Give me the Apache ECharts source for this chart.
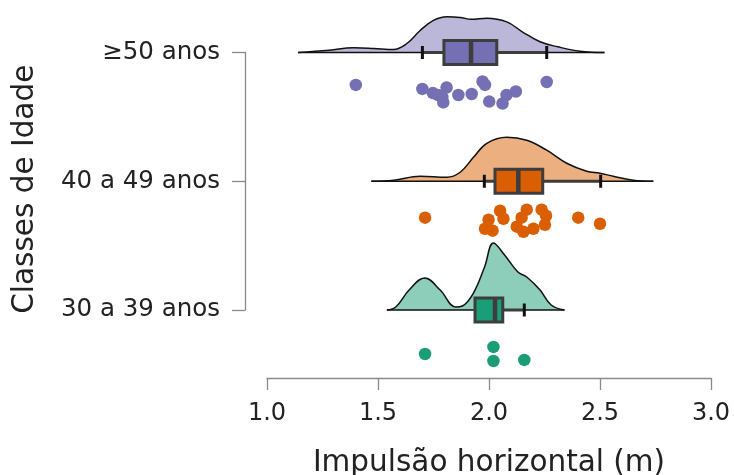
<!DOCTYPE html>
<html lang="pt">
<head>
    <meta charset="UTF-8">
    <title>Impulsão horizontal por classe de idade</title>
    <script src="https://cdn.jsdelivr.net/npm/echarts@6/dist/echarts.min.js"></script>
</head>
<body>
<div id="chart"></div>
</body>
<style>
    * {
        padding: 0;
        margin: 0;
    }

    html, body {
        width: 100%;
        height: 100%;
        background-color: white;
    }

    #chart {
        width: 734px;
        height: 475px;
    }
</style>
<script>

    // categorias (0 = mais baixa no eixo)
    const categories = ['30 a 39 anos', '40 a 49 anos', '≥50 anos']
    const colors = ['#1b9e77', '#d95f02', '#7570b3']
    const xTicks = [1.0, 1.5, 2.0, 2.5, 3.0]

    // densidade (metade do violino), altura em unidades do eixo das classes
    const densX30 = [1.54, 1.58, 1.64, 1.71, 1.78, 1.85, 1.88, 1.93, 1.98, 2.02, 2.07, 2.13, 2.17, 2.23, 2.28, 2.34]
    const densH30 = [0, 0.023, 0.155, 0.249, 0.155, 0.023, 0.031, 0.132, 0.334, 0.52, 0.427, 0.295, 0.256, 0.155, 0.039, 0]
    const densX40 = [1.47, 1.57, 1.69, 1.81, 1.87, 1.93, 1.99, 2.08, 2.17, 2.26, 2.35, 2.44, 2.5, 2.56, 2.65, 2.74]
    const densH40 = [0, 0.008, 0.039, 0.031, 0.07, 0.186, 0.295, 0.342, 0.318, 0.241, 0.14, 0.078, 0.062, 0.039, 0.008, 0]
    const densX50 = [1.14, 1.28, 1.39, 1.48, 1.57, 1.63, 1.69, 1.75, 1.81, 1.87, 1.92, 1.99, 2.08, 2.15, 2.23, 2.31, 2.41, 2.52]
    const densH50 = [0, 0.018, 0.036, 0.031, 0.023, 0.07, 0.171, 0.249, 0.277, 0.272, 0.258, 0.266, 0.238, 0.161, 0.083, 0.044, 0.01, 0]

    // caixas: [bigode inf, Q1, mediana, Q3, bigode sup]
    const box30 = [2.02, 1.937, 2.027, 2.062, 2.159]
    const box40 = [1.979, 2.027, 2.132, 2.242, 2.503]
    const box50 = [1.70, 1.797, 1.919, 2.035, 2.26]

    // pontos individuais e o seu deslocamento vertical (jitter)
    const pts30 = [1.712, 2.02, 2.02, 2.159]
    const jit30 = [-0.342, -0.287, -0.396, -0.388]
    const pts40 = [1.712, 1.982, 1.998, 2.016, 2.05, 2.065, 2.125, 2.147, 2.155, 2.17, 2.2, 2.237, 2.257, 2.252, 2.402, 2.5]
    const jit40 = [-0.283, -0.369, -0.299, -0.384, -0.229, -0.291, -0.353, -0.283, -0.392, -0.221, -0.369, -0.221, -0.268, -0.338, -0.283, -0.33]
    const pts50 = [1.40, 1.70, 1.747, 1.77, 1.79, 1.794, 1.809, 1.862, 1.922, 1.971, 1.982, 2.001, 2.061, 2.079, 2.121, 2.26]
    const jit50 = [-0.252, -0.283, -0.315, -0.33, -0.346, -0.388, -0.272, -0.33, -0.322, -0.225, -0.252, -0.381, -0.396, -0.33, -0.303, -0.229]

    const dens = [[densX30, densH30], [densX40, densH40], [densX50, densH50]]
    const boxes = [box30, box40, box50]
    const pts = [[pts30, jit30], [pts40, jit40], [pts50, jit50]]

    const font = 'DejaVu Sans'
    const axisGray = '#8a8a8a'
    const textColor = '#222'

    let series = []

    dens.forEach((d, c) => {
        series.push({
            type: 'line',
            smooth: 0.4,
            symbol: 'none',
            clip: false,
            silent: true,
            z: 1,
            data: d[0].map((x, i) => [x, c + d[1][i]]),
            lineStyle: {color: '#111', width: 1.5},
            areaStyle: {color: colors[c], opacity: 0.5, origin: c}
        })
        series.push({
            type: 'line',
            symbol: 'none',
            clip: false,
            silent: true,
            z: 2,
            data: [[d[0][0], c], [d[0][d[0].length - 1], c]],
            lineStyle: {color: '#111', width: 1.5}
        })
    })

    series.push({
        type: 'custom',
        z: 3,
        silent: true,
        encode: {x: [1, 2, 3, 4, 5], y: 0},
        data: boxes.map((b, c) => [c].concat(b)),
        renderItem: function (params, api) {
            const c = api.value(0)
            const p = k => api.coord([api.value(k), c])
            const lo = p(1), q1 = p(2), md = p(3), q3 = p(4), hi = p(5)
            const y = lo[1]
            const h = 12, cap = 6.5
            const edge = '#3d3d3d'
            return {
                type: 'group',
                children: [
                    {type: 'line', shape: {x1: lo[0], y1: y, x2: q1[0], y2: y}, style: {stroke: edge, lineWidth: 3}},
                    {type: 'line', shape: {x1: q3[0], y1: y, x2: hi[0], y2: y}, style: {stroke: edge, lineWidth: 3}},
                    {type: 'line', shape: {x1: lo[0], y1: y - cap, x2: lo[0], y2: y + cap}, style: {stroke: '#111', lineWidth: 3}},
                    {type: 'line', shape: {x1: hi[0], y1: y - cap, x2: hi[0], y2: y + cap}, style: {stroke: '#111', lineWidth: 3}},
                    {
                        type: 'rect',
                        shape: {x: q1[0], y: y - h, width: q3[0] - q1[0], height: 2 * h},
                        style: {fill: colors[c], stroke: edge, lineWidth: 3}
                    },
                    {type: 'line', shape: {x1: md[0], y1: y - h, x2: md[0], y2: y + h}, style: {stroke: edge, lineWidth: 4.5}}
                ]
            }
        }
    })

    pts.forEach((p, c) => {
        series.push({
            type: 'scatter',
            clip: false,
            silent: true,
            z: 4,
            symbolSize: 12.5,
            itemStyle: {color: colors[c], opacity: 1},
            data: p[0].map((x, i) => [x, c + p[1][i]])
        })
    })

    const chart = echarts.init(document.getElementById('chart'), null, {renderer: 'canvas'})
    chart.setOption({
        animation: false,
        backgroundColor: '#fff',
        grid: {left: 267, right: 23, top: 52.5, bottom: 165, containLabel: false, outerBoundsMode: 'none'},
        xAxis: {
            type: 'value',
            min: xTicks[0],
            max: xTicks[xTicks.length - 1],
            interval: 0.5,
            offset: 68,
            splitLine: {show: false},
            axisLine: {show: true, onZero: false, lineStyle: {color: axisGray, width: 1.3}},
            axisTick: {show: true, length: 12, lineStyle: {color: axisGray, width: 1.3}},
            axisLabel: {
                fontFamily: font, fontSize: 24, color: textColor, margin: 24,
                formatter: v => v.toFixed(1)
            },
            name: 'Impulsão horizontal (m)',
            nameLocation: 'middle',
            nameGap: 70,
            nameTextStyle: {fontFamily: font, fontSize: 29.5, color: textColor}
        },
        yAxis: {
            type: 'value',
            min: 0,
            max: 2,
            interval: 1,
            offset: 22,
            splitLine: {show: false},
            axisLine: {show: true, onZero: false, lineStyle: {color: axisGray, width: 1.3}},
            axisTick: {show: true, length: 13, lineStyle: {color: axisGray, width: 1.3}},
            axisLabel: {
                fontFamily: font, fontSize: 24.5, color: textColor, margin: 25,
                formatter: v => categories[v]
            },
            name: 'Classes de Idade',
            nameLocation: 'middle',
            nameRotate: 90,
            nameGap: 205,
            nameTextStyle: {fontFamily: font, fontSize: 29.5, color: textColor, padding: [0, 16, 0, 0]}
        },
        series: series
    })

</script>
</html>
